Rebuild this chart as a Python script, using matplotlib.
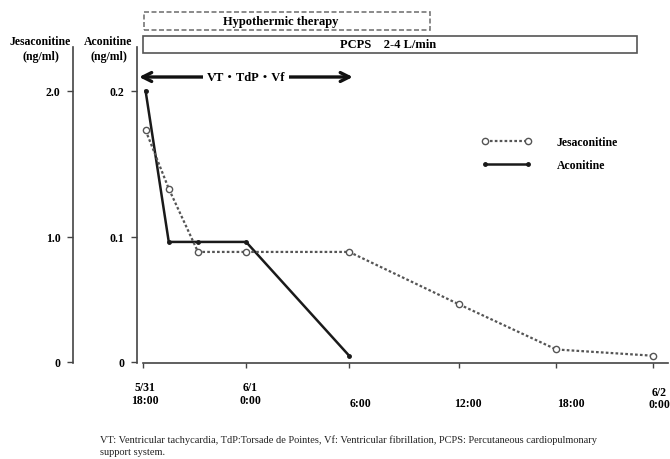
import numpy as np
import matplotlib
matplotlib.use('Agg')
import matplotlib.pyplot as plt
import matplotlib.transforms as mtransforms
from matplotlib.patches import Rectangle

plt.rcParams['font.family'] = ['Liberation Serif', 'Noto Sans CJK JP']
plt.rcParams['font.weight'] = 'bold'

# hours after 5/31 18:00
jes_hours = [0.15, 1.5, 3.2, 6.0, 12.0, 18.0, 24.0, 30.0]
jes_conc = [1.73, 1.33, 0.88, 0.88, 0.88, 0.46, 0.10, 0.05]   # ng/ml
aco_hours = [0.15, 1.5, 3.2, 6.0, 12.0]
aco_conc = [0.200, 0.096, 0.096, 0.096, 0.005]                 # ng/ml

tick_hours = [0, 6, 12, 18, 24, 30]
tick_labels = ['5/31\n18:00', '6/1\n0:00', '6:00', '12:00', '18:00', '6/2\n0:00']

hypo_span = (0.05, 16.4)
pcps_span = (0.0, 29.0)
arrhythmia_span = (-0.23, 12.2)

W, H = 670, 460

# the original drawing is not evenly spaced on either axis:
# piecewise-linear scales through the tick marks reproduce it
X_KNOTS = [0, 6, 12, 18, 24, 30]
X_PIX = [0, 103, 206, 316, 413, 510]
Y_KNOTS = [0, 0.1, 0.2]
Y_PIX = [0, 125, 271]


def piecewise(v, xs, ys):
    v = np.asarray(v, float)
    out = np.interp(v, xs, ys)
    s0 = (ys[1] - ys[0]) / (xs[1] - xs[0])
    s1 = (ys[-1] - ys[-2]) / (xs[-1] - xs[-2])
    out = np.where(v < xs[0], ys[0] + (v - xs[0]) * s0, out)
    out = np.where(v > xs[-1], ys[-1] + (v - xs[-1]) * s1, out)
    return out


def fy(px):
    return 1 - px / H


fig = plt.figure(figsize=(W / 100, H / 100), dpi=100)
ax = fig.add_axes([143 / W, fy(364), (668 - 143) / W, (364 - 48) / H])
ax.set_xscale('function', functions=(lambda v: piecewise(v, X_KNOTS, X_PIX),
                                     lambda p: piecewise(p, X_PIX, X_KNOTS)))
ax.set_yscale('function', functions=(lambda v: piecewise(v, Y_KNOTS, Y_PIX),
                                     lambda p: piecewise(p, Y_PIX, Y_KNOTS)))
ax.set_ylim(-0.0008, 0.230)
ax.set_xlim(0, 30.9)

ax2 = ax.twinx()
ax2.set_yscale('function',
               functions=(lambda v: piecewise(np.asarray(v) / 10.0, Y_KNOTS, Y_PIX),
                          lambda p: piecewise(p, Y_PIX, Y_KNOTS) * 10.0))
ax2.set_ylim(-0.008, 2.30)

spine_col = '#444444'
for a in (ax, ax2):
    for s in ('top', 'right'):
        a.spines[s].set_visible(False)
ax2.spines['bottom'].set_visible(False)

ax.spines['left'].set_position(('outward', 4.3))
ax.spines['left'].set_color(spine_col)
ax.spines['bottom'].set_color(spine_col)
ax.spines['left'].set_linewidth(1.2)
ax.spines['bottom'].set_linewidth(1.2)

ax2.spines['left'].set_visible(True)
ax2.spines['left'].set_position(('outward', 50.4))
ax2.spines['left'].set_color(spine_col)
ax2.spines['left'].set_linewidth(1.2)
ax2.yaxis.set_ticks_position('left')
ax2.yaxis.set_label_position('left')

ax.set_yticks([0, 0.1, 0.2])
ax.set_yticklabels(['0', '0.1', '0.2'])
ax2.set_yticks([0, 1.0, 2.0])
ax2.set_yticklabels(['0', '1.0', '2.0'])
ax.yaxis.set_minor_locator(matplotlib.ticker.NullLocator())
ax2.yaxis.set_minor_locator(matplotlib.ticker.NullLocator())
for a in (ax, ax2):
    a.tick_params(axis='y', length=4.5, width=1, color=spine_col, pad=4.5,
                  labelsize=8.5)

ax.set_xticks(tick_hours)
ax.set_xticklabels([])
ax.xaxis.set_minor_locator(matplotlib.ticker.NullLocator())
ax.tick_params(axis='x', length=3.5, width=1, color=spine_col)

# tick labels sit a little off their ticks in the original
label_x_px = [145, 250, 361, 468, 571, 659]
label_y_px = [394.5, 394.5, 404.5, 404.5, 404.5, 399]
for txt, x, y in zip(tick_labels, label_x_px, label_y_px):
    fig.text(x / W, fy(y), txt, ha='center', va='center', fontsize=8.5,
             linespacing=1.1)

# series
ax2.plot(jes_hours, jes_conc, linestyle=(0, (1.2, 1.0)), color='#555555', lw=1.6,
         marker='o', ms=4.5, mfc='white', mec='#555555', mew=1.0,
         clip_on=False, label='Jesaconitine', zorder=3)
ax.plot(aco_hours, aco_conc, linestyle='-', color='#1a1a1a', lw=1.8,
        marker='o', ms=2.5, mfc='#1a1a1a', mec='#1a1a1a',
        clip_on=False, label='Aconitine', zorder=4)

h1, l1 = ax2.get_legend_handles_labels()
h2, l2 = ax.get_legend_handles_labels()
fig.legend(h1 + h2, l1 + l2, loc='upper left',
           bbox_to_anchor=(481 / W, fy(137)), bbox_transform=fig.transFigure,
           frameon=False, borderpad=0, borderaxespad=0, numpoints=2,
           handlelength=4.3, handletextpad=2.1, labelspacing=0.95,
           prop={'size': 8.5, 'weight': 'bold'})

# axis titles
for x, txt in ((40, 'Jesaconitine'), (108, 'Aconitine')):
    fig.text(x / W, fy(42), txt, ha='center', va='center', fontsize=8.5)
    fig.text((x + 1) / W, fy(57), '(ng/ml)', ha='center', va='center', fontsize=8.5)

# therapy boxes
trans = mtransforms.blended_transform_factory(ax.transData, fig.transFigure)
ax.add_patch(Rectangle((hypo_span[0], fy(31)), hypo_span[1] - hypo_span[0],
                       (31 - 13) / H, transform=trans, fill=False,
                       edgecolor='#777777', lw=1.2, linestyle=(0, (3, 1.5)),
                       clip_on=False))
ax.text(8.0, fy(22), 'Hypothermic therapy', transform=trans,
        ha='center', va='center', fontsize=9)
ax.add_patch(Rectangle((pcps_span[0], fy(54)), pcps_span[1] - pcps_span[0],
                       (54 - 37) / H, transform=trans, fill=False,
                       edgecolor='#555555', lw=1.2, clip_on=False))
ax.text(14.1, fy(45.5), 'PCPS    2-4 L/min', transform=trans,
        ha='center', va='center', fontsize=9)

# arrhythmia arrow
ax.annotate('', xy=(arrhythmia_span[0], fy(78)), xycoords=trans,
            xytext=(arrhythmia_span[1], fy(78)), textcoords=trans,
            arrowprops=dict(arrowstyle='<->', lw=2.4, color='#111111',
                            mutation_scale=16, shrinkA=0, shrinkB=0),
            annotation_clip=False)
ax.text(6.0, fy(78), 'VT・TdP・Vf', transform=trans, ha='center', va='center',
        fontsize=9, bbox=dict(facecolor='white', edgecolor='none', pad=2.5))

fig.text(100 / W, fy(435),
         'VT: Ventricular tachycardia, TdP:Torsade de Pointes, Vf: Ventricular fibrillation, '
         'PCPS: Percutaneous cardiopulmonary\nsupport system.',
         ha='left', va='top', fontsize=7.5, fontweight='normal', linespacing=1.4,
         color='#222222')

fig.savefig('out.png', dpi=100)
